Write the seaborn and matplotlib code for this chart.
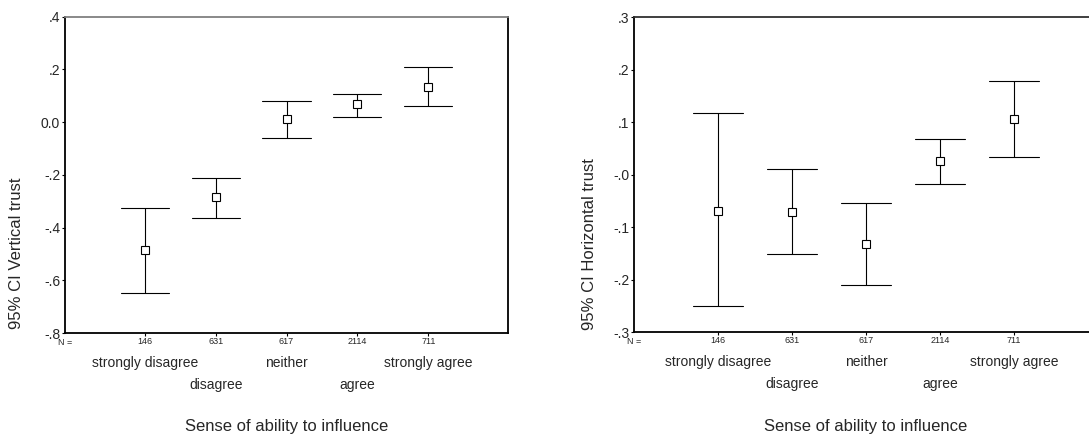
import matplotlib
matplotlib.use("Agg")
import matplotlib.pyplot as plt
import pandas as pd
import seaborn as sns

# categories and sample sizes
categories = ["strongly disagree", "disagree", "neither", "agree", "strongly agree"]
n_counts = ["146", "631", "617", "2114", "711"]

# vertical trust: means and 95% CI bounds
vert_mean = [-0.485, -0.285, 0.011, 0.067, 0.134]
vert_lower = [-0.650, -0.362, -0.061, 0.020, 0.060]
vert_upper = [-0.324, -0.212, 0.081, 0.108, 0.209]

# horizontal trust: means and 95% CI bounds
horiz_mean = [-0.068, -0.070, -0.132, 0.027, 0.106]
horiz_lower = [-0.249, -0.150, -0.209, -0.017, 0.034]
horiz_upper = [0.117, 0.011, -0.054, 0.068, 0.179]

vert_ticks = [0.4, 0.2, 0.0, -0.2, -0.4, -0.6, -0.8]
vert_ticklabels = [".4", ".2", "0.0", "-.2", "-.4", "-.6", "-.8"]
horiz_ticks = [0.3, 0.2, 0.1, 0.0, -0.1, -0.2, -0.3]
horiz_ticklabels = [".3", ".2", ".1", "-.0", "-.1", "-.2", "-.3"]


def long_form(lower, mean, upper):
    rows = []
    for cat, lo, m, hi in zip(categories, lower, mean, upper):
        for v in (lo, m, hi):
            rows.append({"category": cat, "value": v})
    return pd.DataFrame(rows)


def ci_range(v):
    return (v.min(), v.max())


sns.set_style("white")
plt.rcParams["font.family"] = ["Liberation Sans", "DejaVu Sans"]

fig = plt.figure(figsize=(10.89, 4.38), dpi=100)
ax1 = fig.add_axes([0.0597, 0.2397, 0.4068, 0.7222])
ax2 = fig.add_axes([0.5822, 0.2413, 0.4252, 0.7192])

panels = [
    (ax1, long_form(vert_lower, vert_mean, vert_upper), "95% CI Vertical trust",
     vert_ticks, vert_ticklabels, (-0.8, 0.4), (-1.125, 5.125), "#808080",
     (-0.092, 0.253)),
    (ax2, long_form(horiz_lower, horiz_mean, horiz_upper), "95% CI Horizontal trust",
     horiz_ticks, horiz_ticklabels, (-0.3, 0.3), (-1.135, 5.12), "#303030",
     (-0.08, 0.28)),
]

for ax, df, ylabel, ticks, ticklabels, ylim, xlim, topcolor, labpos in panels:
    sns.pointplot(
        data=df, x="category", y="value", order=categories,
        estimator="median", errorbar=ci_range, capsize=0.68,
        linestyle="none", color="black", err_kws={"linewidth": 0.8},
        marker="s", markersize=6, markerfacecolor="white",
        markeredgecolor="black", markeredgewidth=0.8, ax=ax,
    )
    for line in ax.lines:
        if line.get_marker() == "s":
            line.set_zorder(5)

    ax.set_xlim(*xlim)
    ax.set_ylim(*ylim)
    ax.set_yticks(ticks)
    ax.set_yticklabels(ticklabels, fontsize=10)
    ax.set_xticks(range(len(categories)))
    ax.set_xticklabels(n_counts, fontsize=6.5)
    ax.tick_params(axis="y", direction="out", length=2.5, width=0.8, pad=1,
                   left=True, color="black")
    ax.tick_params(axis="x", direction="out", length=2, width=0.8, pad=1,
                   bottom=True, color="black")
    ax.set_xlabel("")
    ax.set_ylabel(ylabel, fontsize=12)
    ax.yaxis.set_label_coords(*labpos)

    for side in ["left", "bottom", "right"]:
        ax.spines[side].set_color("black")
        ax.spines[side].set_linewidth(1.3)
    ax.spines["top"].set_color(topcolor)
    ax.spines["top"].set_linewidth(1.3)

    # N = label and staggered category names
    ax.annotate("N =", xy=(0, 0), xycoords="axes fraction",
                xytext=(0, -6.5), textcoords="offset points",
                ha="center", va="center", fontsize=6.5)
    for i, cat in enumerate(categories):
        off = -21.5 if i % 2 == 0 else -37.5
        ax.annotate(cat, xy=(i, 0), xycoords=("data", "axes fraction"),
                    xytext=(0, off), textcoords="offset points",
                    ha="center", va="center", fontsize=10)
    ax.annotate("Sense of ability to influence", xy=(0.5, 0),
                xycoords="axes fraction", xytext=(0, -67.5),
                textcoords="offset points", ha="center", va="center",
                fontsize=12)

fig.savefig("out.png", dpi=100)
